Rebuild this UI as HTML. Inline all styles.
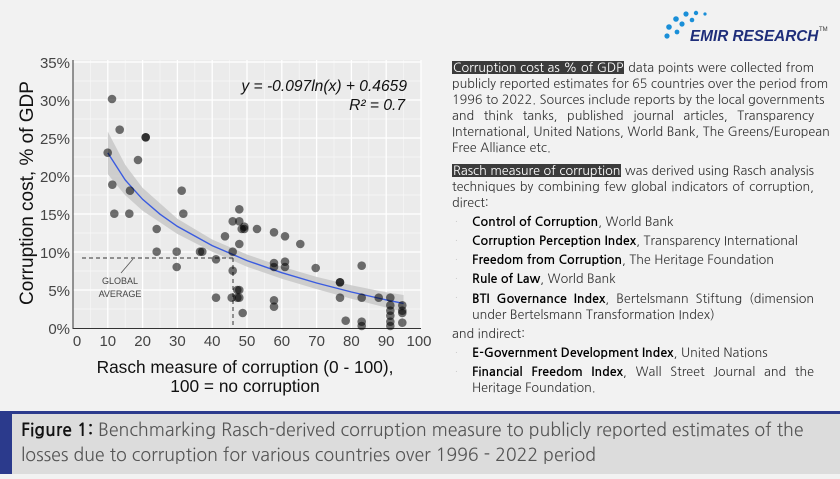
<!DOCTYPE html>
<html><head><meta charset="utf-8"><style>
body{margin:0;width:840px;height:479px;background:#f2f2f2;position:relative;overflow:hidden;font-family:"NanumGothic","Liberation Sans",sans-serif}
.t{position:absolute;left:452px;width:362px;font-size:12.6px;color:#333;white-space:nowrap;line-height:16px}
.j{text-align:justify;text-align-last:justify}
.h{background:#3b3b3b;color:#fff;padding:0 1px}
.li{left:472px;width:342px}
.li b{color:#000}
.bul{position:absolute;left:455px;color:#ccc;font-size:10px}
</style></head><body>
<svg width="840" height="479" style="position:absolute;left:0;top:0" font-family="Liberation Sans, sans-serif">
<rect x="73" y="60" width="348" height="268" fill="#ebebeb"/>
<g stroke="#f7f7f7" stroke-width="0.7">
<line x1="90.4" y1="60" x2="90.4" y2="328"/><line x1="125.2" y1="60" x2="125.2" y2="328"/><line x1="160" y1="60" x2="160" y2="328"/><line x1="194.8" y1="60" x2="194.8" y2="328"/><line x1="229.6" y1="60" x2="229.6" y2="328"/><line x1="264.4" y1="60" x2="264.4" y2="328"/><line x1="299.2" y1="60" x2="299.2" y2="328"/><line x1="334" y1="60" x2="334" y2="328"/><line x1="368.8" y1="60" x2="368.8" y2="328"/><line x1="403.6" y1="60" x2="403.6" y2="328"/>
<line x1="73" y1="309" x2="421" y2="309"/><line x1="73" y1="271" x2="421" y2="271"/><line x1="73" y1="233" x2="421" y2="233"/><line x1="73" y1="195" x2="421" y2="195"/><line x1="73" y1="157" x2="421" y2="157"/><line x1="73" y1="119" x2="421" y2="119"/><line x1="73" y1="81" x2="421" y2="81"/>
</g>
<g stroke="#fff" stroke-width="1.3">
<line x1="107.8" y1="60" x2="107.8" y2="328"/><line x1="142.6" y1="60" x2="142.6" y2="328"/><line x1="177.4" y1="60" x2="177.4" y2="328"/><line x1="212.2" y1="60" x2="212.2" y2="328"/><line x1="247" y1="60" x2="247" y2="328"/><line x1="281.8" y1="60" x2="281.8" y2="328"/><line x1="316.6" y1="60" x2="316.6" y2="328"/><line x1="351.4" y1="60" x2="351.4" y2="328"/><line x1="386.2" y1="60" x2="386.2" y2="328"/><line x1="421" y1="60" x2="421" y2="328"/>
<line x1="73" y1="290" x2="421" y2="290"/><line x1="73" y1="252" x2="421" y2="252"/><line x1="73" y1="214" x2="421" y2="214"/><line x1="73" y1="176" x2="421" y2="176"/><line x1="73" y1="138" x2="421" y2="138"/><line x1="73" y1="100" x2="421" y2="100"/><line x1="73" y1="62" x2="421" y2="62"/>
</g>
<line x1="73" y1="60" x2="73" y2="329" stroke="#333" stroke-width="1"/>
<line x1="73" y1="328.5" x2="421" y2="328.5" stroke="#333" stroke-width="1"/>
<polygon fill="#c8c8c8" fill-opacity="0.85" points="107.8,131.6 125.2,164.8 142.6,187.9 177.4,218.8 212.2,239.5 247,254.5 281.8,266.6 316.6,276.9 351.4,285.2 386.2,292.3 403.6,295 403.6,311.8 386.2,307.5 351.4,298.8 316.6,289.1 281.8,278.8 247,266.7 212.2,251.7 177.4,234 142.6,210.7 125.2,195.2 107.8,174.2"/>
<polyline fill="none" stroke="#3a5be0" stroke-width="1.4" points="107.8,152.9 125.2,180 142.6,199.3 160,214.2 177.4,226.4 212.2,245.6 247,260.6 281.8,272.7 316.6,283 351.4,292 386.2,299.9 403.6,303.4"/>
<g stroke="#333" stroke-width="1" stroke-dasharray="4,3" fill="none">
<line x1="82" y1="258" x2="233" y2="258"/><line x1="233" y1="258" x2="233" y2="328"/>
</g>
<line x1="133" y1="259" x2="121" y2="273" stroke="#555" stroke-width="0.8"/>
<text x="120" y="284" font-size="9" fill="#444" text-anchor="middle">GLOBAL</text>
<text x="120" y="297" font-size="9" fill="#444" text-anchor="middle">AVERAGE</text>
<g fill="#000" fill-opacity="0.55">
<circle cx="107.7" cy="152.7" r="4.3"/><circle cx="112" cy="99" r="4.3"/><circle cx="119.7" cy="129.7" r="4.3"/><circle cx="145.7" cy="137.3" r="4.3"/><circle cx="145.7" cy="137.3" r="4.3"/><circle cx="138" cy="160" r="4.3"/><circle cx="112.3" cy="184.7" r="4.3"/><circle cx="114.3" cy="213.7" r="4.3"/><circle cx="130" cy="190.7" r="4.3"/><circle cx="129.3" cy="213.7" r="4.3"/><circle cx="156.7" cy="229" r="4.3"/><circle cx="156.7" cy="251.7" r="4.3"/><circle cx="176.7" cy="251.7" r="4.3"/><circle cx="176.7" cy="267" r="4.3"/><circle cx="181.7" cy="190.7" r="4.3"/><circle cx="183.3" cy="213.7" r="4.3"/><circle cx="200" cy="251.7" r="4.3"/><circle cx="202.3" cy="251.7" r="4.3"/><circle cx="216" cy="259.3" r="4.3"/><circle cx="216" cy="297.7" r="4.3"/><circle cx="225" cy="236.3" r="4.3"/><circle cx="232.7" cy="251.7" r="4.3"/><circle cx="232.7" cy="270.7" r="4.3"/><circle cx="231.7" cy="297.7" r="4.3"/><circle cx="232.7" cy="221.3" r="4.3"/><circle cx="239.3" cy="209.3" r="4.3"/><circle cx="239.3" cy="221.3" r="4.3"/><circle cx="239.3" cy="244" r="4.3"/><circle cx="241.7" cy="229" r="4.3"/><circle cx="244.3" cy="226.7" r="4.3"/><circle cx="244.3" cy="229" r="4.3"/><circle cx="237.3" cy="290" r="4.3"/><circle cx="239.3" cy="290" r="4.3"/><circle cx="237.3" cy="297.7" r="4.3"/><circle cx="239.3" cy="297.7" r="4.3"/><circle cx="242.7" cy="313" r="4.3"/><circle cx="257" cy="229" r="4.3"/><circle cx="274" cy="232.3" r="4.3"/><circle cx="274" cy="263" r="4.3"/><circle cx="274" cy="267" r="4.3"/><circle cx="274" cy="300.3" r="4.3"/><circle cx="274" cy="306.7" r="4.3"/><circle cx="285" cy="236.3" r="4.3"/><circle cx="285" cy="261.7" r="4.3"/><circle cx="285" cy="267" r="4.3"/><circle cx="300.3" cy="244" r="4.3"/><circle cx="315.7" cy="268" r="4.3"/><circle cx="340" cy="282.3" r="4.3"/><circle cx="340" cy="282.3" r="4.3"/><circle cx="340" cy="297.7" r="4.3"/><circle cx="345.7" cy="320.7" r="4.3"/><circle cx="361.7" cy="265.7" r="4.3"/><circle cx="361.7" cy="297.7" r="4.3"/><circle cx="361.7" cy="321.7" r="4.3"/><circle cx="361.7" cy="326" r="4.3"/><circle cx="378.7" cy="297.7" r="4.3"/><circle cx="390.3" cy="297.7" r="4.3"/><circle cx="390.3" cy="305.3" r="4.3"/><circle cx="390.3" cy="310.7" r="4.3"/><circle cx="390.3" cy="315.7" r="4.3"/><circle cx="390.3" cy="321.7" r="4.3"/><circle cx="390.3" cy="326" r="4.3"/><circle cx="402.3" cy="305.3" r="4.3"/><circle cx="402.3" cy="310.7" r="4.3"/><circle cx="402.3" cy="313" r="4.3"/><circle cx="402.3" cy="322.7" r="4.3"/>
</g>
<g font-size="15" fill="#444" text-anchor="end">
<text x="70" y="334">0%</text><text x="70" y="296">5%</text><text x="70" y="258">10%</text><text x="70" y="220">15%</text><text x="70" y="182">20%</text><text x="70" y="144">25%</text><text x="70" y="106">30%</text><text x="70" y="68">35%</text>
</g>
<g font-size="15" fill="#444" text-anchor="middle">
<text x="77" y="346">0</text><text x="107.8" y="346">10</text><text x="142.6" y="346">20</text><text x="177.4" y="346">30</text><text x="212.2" y="346">40</text><text x="247" y="346">50</text><text x="281.8" y="346">60</text><text x="316.6" y="346">70</text><text x="351.4" y="346">80</text><text x="386.2" y="346">90</text><text x="419" y="346">100</text>
</g>
<text transform="translate(33,193) rotate(-90)" font-size="19" fill="#111" text-anchor="middle">Corruption cost, % of GDP</text>
<text x="245" y="373" font-size="17.3" fill="#111" text-anchor="middle">Rasch measure of corruption (0 - 100),</text>
<text x="245" y="392" font-size="17.3" fill="#111" text-anchor="middle">100 = no corruption</text>
<text x="407" y="91" font-size="15.6" font-style="italic" fill="#111" text-anchor="end">y = -0.097ln(x) + 0.4659</text>
<text x="405" y="110" font-size="15.6" font-style="italic" fill="#111" text-anchor="end">R² = 0.7</text>
<g fill="#1a8fd8">
<circle cx="667" cy="36" r="2.6"/><circle cx="669" cy="27" r="2.8"/><circle cx="676" cy="19" r="2.8"/><circle cx="686" cy="14" r="2.6"/><circle cx="696" cy="13" r="2.2"/><circle cx="682" cy="24" r="2.6"/><circle cx="692" cy="20" r="2.3"/><circle cx="677" cy="32" r="2.4"/><circle cx="705" cy="14" r="1.6"/>
</g>
<text x="690" y="41" font-size="15.3" font-weight="bold" font-style="italic" fill="#1f2e7a">EMIR RESEARCH</text>
<text x="819" y="31" font-size="6" fill="#333">TM</text>
<rect x="0" y="411" width="840" height="3" fill="#2b3a8c"/>
<rect x="0" y="414" width="840" height="60" fill="#dcdcdc"/>
<rect x="0" y="414" width="12" height="60" fill="#2b3a8c"/>
</svg>
<div class="t j" style="top:60px"><span class="h">Corruption cost as % of GDP</span> data points were collected from</div>
<div class="t j" style="top:76px">publicly reported estimates for 65 countries over the period from</div>
<div class="t j" style="top:92px">1996 to 2022. Sources include reports by the local governments</div>
<div class="t j" style="top:108px">and think tanks, published journal articles, Transparency</div>
<div class="t j" style="top:124px">International, United Nations, World Bank, The Greens/European</div>
<div class="t" style="top:140px">Free Alliance etc.</div>
<div class="t j" style="top:163px"><span class="h">Rasch measure of corruption</span> was derived using Rasch analysis</div>
<div class="t j" style="top:179px">techniques by combining few global indicators of corruption,</div>
<div class="t" style="top:195px">direct:</div>
<div class="bul" style="top:216px">·</div><div class="t li" style="top:214px"><b>Control of Corruption</b>, World Bank</div>
<div class="bul" style="top:235px">·</div><div class="t li" style="top:233px"><b>Corruption Perception Index</b>, Transparency International</div>
<div class="bul" style="top:254px">·</div><div class="t li" style="top:252px"><b>Freedom from Corruption</b>, The Heritage Foundation</div>
<div class="bul" style="top:273px">·</div><div class="t li" style="top:271px"><b>Rule of Law</b>, World Bank</div>
<div class="bul" style="top:292px">·</div><div class="t li j" style="top:291px"><b>BTI Governance Index</b>, Bertelsmann Stiftung (dimension</div>
<div class="t li" style="top:307px">under Bertelsmann Transformation Index)</div>
<div class="t" style="top:326px">and indirect:</div>
<div class="bul" style="top:347px">·</div><div class="t li" style="top:345px"><b>E-Government Development Index</b>, United Nations</div>
<div class="bul" style="top:366px">·</div><div class="t li j" style="top:364px"><b>Financial Freedom Index</b>, Wall Street Journal and the</div>
<div class="t li" style="top:380px">Heritage Foundation.</div>
<div style="position:absolute;left:21px;top:418px;font-size:17.8px;line-height:25px;color:#555;white-space:nowrap"><b style="color:#111">Figure 1:</b> Benchmarking Rasch-derived corruption measure to publicly reported estimates of the<br>losses due to corruption for various countries over 1996 - 2022 period</div>
</body></html>
